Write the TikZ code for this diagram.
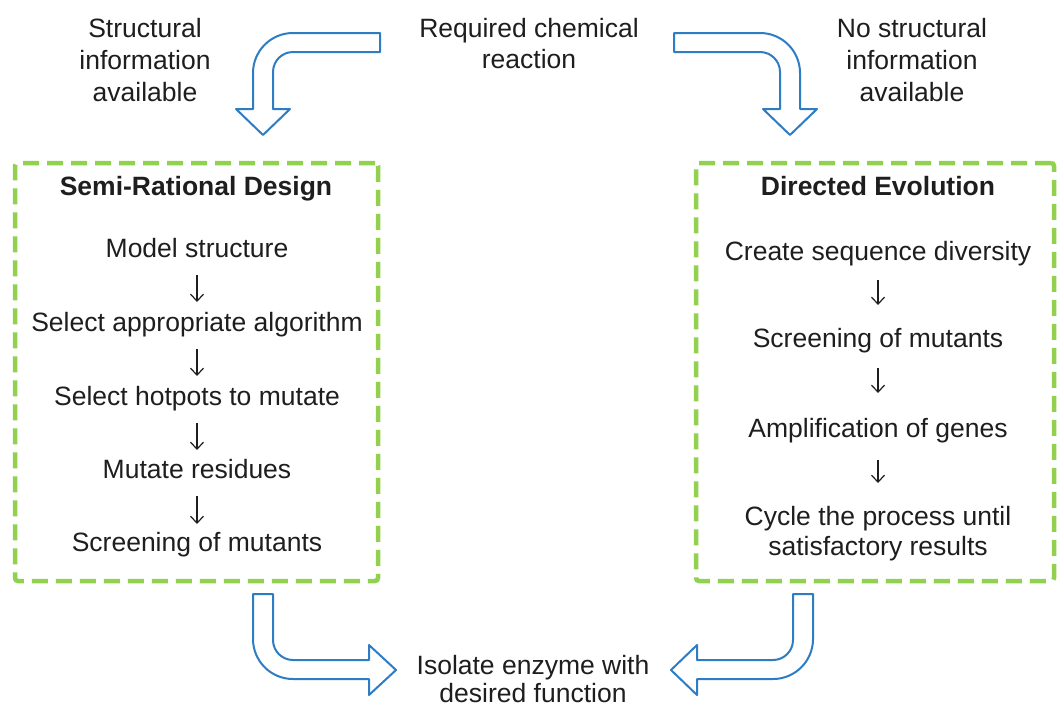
\documentclass[tikz,border=0pt]{standalone}
\usepackage{fontspec}
\setmainfont{Liberation Sans}
\usetikzlibrary{arrows.meta}

\definecolor{inkc}{RGB}{30,30,30}
\definecolor{arrowblue}{RGB}{46,125,196}
\definecolor{dashgreen}{RGB}{146,208,80}

\begin{document}
\begin{tikzpicture}[x=1pt,y=-1pt,
  lbl/.style={font=\fontsize{26.5}{32}\selectfont, text=inkc, align=center, inner sep=0pt},
  stepnode/.style={lbl, text height=19pt, text depth=6pt, anchor=base},
  titlenode/.style={stepnode, font=\fontsize{26.5}{32}\selectfont\bfseries},
  panel/.style={draw=dashgreen, line width=4.5pt, dash pattern=on 16pt off 8pt,
    rounded corners=3pt, inner sep=0pt},
  blockarrow/.style={draw=arrowblue, line width=2pt, line join=round, fill=white},
  flow/.style={draw=inkc, line width=1.2pt, -{Straight Barb[length=7pt,width=13pt]}},
]
\useasboundingbox (0,0) rectangle (1059,710);
\fill[white] (0,0) rectangle (1059,710);

% dashed panels
\node[panel, minimum width=363pt, minimum height=418pt] (leftpanel) at (196.5,372) {};
\node[panel, minimum width=358pt, minimum height=418pt] (rightpanel) at (875,372) {};

% labels above the panels
\node[lbl, anchor=north] (structinfo) at (145,18) {Structural\\information\\available};
\node[lbl, anchor=north, font=\fontsize{26.5}{31}\selectfont] (reaction) at (529,18) {Required chemical\\reaction};
\node[lbl, anchor=north] (nostructinfo) at (912,18) {No structural\\information\\available};

% semi-rational design
\node[titlenode] (srd) at (196,195) {Semi-Rational Design};
\node[stepnode] (m1) at (197,257) {Model structure};
\node[stepnode] (m2) at (197,331) {Select appropriate algorithm};
\node[stepnode] (m3) at (197,405) {Select hotpots to mutate};
\node[stepnode] (m4) at (197,478) {Mutate residues};
\node[stepnode] (m5) at (197,551) {Screening of mutants};

\draw[flow] ([yshift=-18pt]m1.base) -- ([yshift=29pt]m2.base);
\draw[flow] ([yshift=-18pt]m2.base) -- ([yshift=29pt]m3.base);
\draw[flow] ([yshift=-18pt]m3.base) -- ([yshift=28pt]m4.base);
\draw[flow] ([yshift=-18pt]m4.base) -- ([yshift=27pt]m5.base);

% directed evolution
\node[titlenode] (de) at (878,195) {Directed Evolution};
\node[stepnode] (r1) at (878,260) {Create sequence diversity};
\node[stepnode] (r2) at (878,347) {Screening of mutants};
\node[stepnode] (r3) at (878,437) {Amplification of genes};
\node[lbl, anchor=north, font=\fontsize{26.5}{30}\selectfont] (r4) at (878,506) {Cycle the process until\\satisfactory results};

\draw[flow] ([yshift=-20pt]r1.base) -- ([yshift=42pt]r2.base);
\draw[flow] ([yshift=-21pt]r2.base) -- ([yshift=44pt]r3.base);
\draw[flow] ([yshift=-23pt]r3.base) -- ([yshift=23pt]r4.north);

% result
\node[lbl, anchor=north, font=\fontsize{26.5}{28.5}\selectfont] (result) at (533,655) {Isolate enzyme with\\desired function};

% bent block arrows
\draw[blockarrow] (380,33) -- (293,33) .. controls (270.9,33) and (253,50.9) .. (253,73)
  -- (253,109) -- (236,109) -- (263,135) -- (290,109) -- (273,109) -- (273,72)
  .. controls (273,60.95) and (281.95,52) .. (293,52) -- (380,52) -- cycle;

\draw[blockarrow] (674,33) -- (760,33) .. controls (782.1,33) and (800,50.9) .. (800,73)
  -- (800,109) -- (817,109) -- (790,135) -- (763,109) -- (780,109) -- (780,72)
  .. controls (780,60.95) and (771.05,52) .. (760,52) -- (674,52) -- cycle;

\draw[blockarrow] (253,594) -- (273,594) -- (273,640)
  .. controls (273,651.05) and (281.95,660) .. (293,660) -- (369,660) -- (369,645)
  -- (396,670) -- (369,695) -- (369,679) -- (293,679)
  .. controls (270.9,679) and (253,661.1) .. (253,639) -- cycle;

\draw[blockarrow] (813,594) -- (793,594) -- (793,640)
  .. controls (793,651.05) and (784.05,660) .. (773,660) -- (697,660) -- (697,645)
  -- (671,670) -- (697,695) -- (697,679) -- (773,679)
  .. controls (795.1,679) and (813,661.1) .. (813,639) -- cycle;
\end{tikzpicture}
\end{document}
